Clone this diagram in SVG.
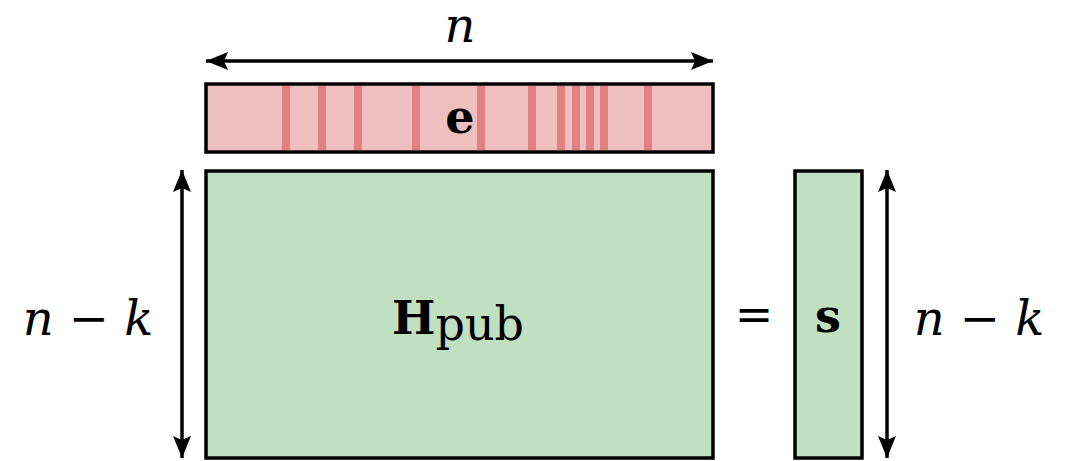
<svg xmlns="http://www.w3.org/2000/svg" width="1073" height="461" viewBox="0 0 1073 461">
<style>
.box{stroke:#000;stroke-width:3.5}
.red{fill:#efbfbf}
.green{fill:#c1dfc1}
.stripe{fill:#e08080}
.conn{stroke:#000;stroke-width:3.5;fill:none}
.math{font-family:'DejaVu Serif',serif;font-style:italic;font-size:48px;fill:#000}
.bold{font-family:'DejaVu Serif',serif;font-weight:bold;font-size:46px;fill:#000}
.rm{font-family:'DejaVu Serif',serif;font-size:46px;fill:#000}
</style>
<defs>
<marker id="ah2" viewBox="0 0 22 18" refX="22" refY="9" markerWidth="22" markerHeight="18" orient="auto-start-reverse" markerUnits="userSpaceOnUse">
<path d="M0,0 L22,9 L0,18 L4,9 Z" fill="#000"/>
</marker>
</defs>
<g id="e">
<rect class="box red" x="206" y="84" width="507" height="68"/>
<g class="stripe">
<rect x="282" y="86" width="8" height="64"/>
<rect x="318" y="86" width="8" height="64"/>
<rect x="354" y="86" width="8" height="64"/>
<rect x="412" y="86" width="8" height="64"/>
<rect x="477" y="86" width="8" height="64"/>
<rect x="528" y="86" width="8" height="64"/>
<rect x="557" y="86" width="8" height="64"/>
<rect x="572" y="86" width="8" height="64"/>
<rect x="586" y="86" width="8" height="64"/>
<rect x="600" y="86" width="8" height="64"/>
<rect x="644" y="86" width="8" height="64"/>
</g>
<text class="bold" x="460" y="133" text-anchor="middle">e</text>
</g>
<g id="H">
<rect class="box green" x="206" y="171" width="507" height="287"/>
<text class="bold" x="458" y="334" text-anchor="middle">H<tspan class="rm" font-weight="normal" font-size="32" dy="6">pub</tspan></text>
</g>
<g id="eq">
<text class="rm" x="754" y="330" text-anchor="middle" font-size="40">=</text>
</g>
<g id="s">
<rect class="box green" x="795" y="171" width="67" height="287"/>
<text class="bold" x="828" y="332" text-anchor="middle">s</text>
</g>
<g id="labels">
<text class="math" x="460" y="42" text-anchor="middle" font-size="40">n</text>
<text class="math" x="88" y="335" text-anchor="middle">n <tspan font-style="normal">−</tspan> k</text>
<text class="math" x="979" y="335" text-anchor="middle">n <tspan font-style="normal">−</tspan> k</text>
</g>
<g id="connectors">
<line class="conn" x1="206" y1="61" x2="713" y2="61" marker-start="url(#ah2)" marker-end="url(#ah2)"/>
<line class="conn" x1="182" y1="170" x2="182" y2="458" marker-start="url(#ah2)" marker-end="url(#ah2)"/>
<line class="conn" x1="887" y1="170" x2="887" y2="458" marker-start="url(#ah2)" marker-end="url(#ah2)"/>
</g>
</svg>
